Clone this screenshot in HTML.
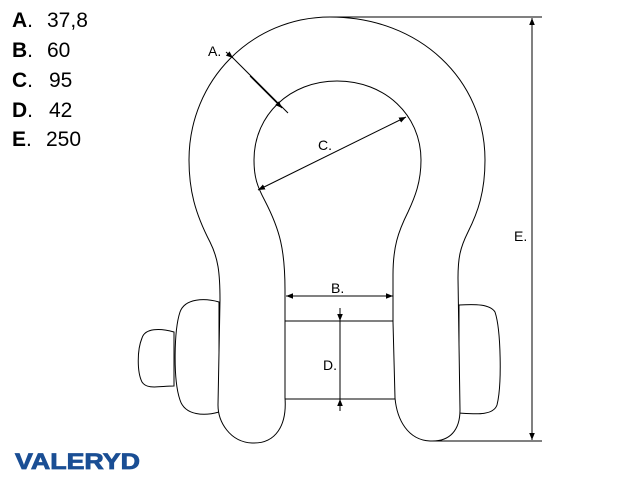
<!DOCTYPE html>
<html><head><meta charset="utf-8"><style>
html,body{margin:0;padding:0;background:#fff;width:640px;height:480px;overflow:hidden}
</style></head><body>
<svg width="640" height="480" xmlns="http://www.w3.org/2000/svg" font-family="Liberation Sans, sans-serif">
<defs>
<marker id="ar" viewBox="0 0 10 10" refX="10" refY="5" markerWidth="7" markerHeight="7" orient="auto-start-reverse" markerUnits="userSpaceOnUse"><path d="M0,1 L10,5 L0,9z" fill="#000"/></marker>
</defs>
<g font-size="21" fill="#000">
<text x="12" y="27"><tspan font-weight="bold">A</tspan>.</text><text x="47" y="27">37,8</text>
<text x="12" y="57"><tspan font-weight="bold">B</tspan>.</text><text x="47" y="57">60</text>
<text x="12" y="87"><tspan font-weight="bold">C</tspan>.</text><text x="49" y="87">95</text>
<text x="12" y="117"><tspan font-weight="bold">D</tspan>.</text><text x="49" y="117">42</text>
<text x="12" y="146"><tspan font-weight="bold">E</tspan>.</text><text x="46" y="146">250</text>
</g>
<g fill="#fff" stroke="#000" stroke-width="1">
<path d="M174 332 C160 328 145 328 142 338 C137 350 137 372 142 382 C147 390 160 386 174 386 Z"/>
<path d="M219 302 C205 298 185 298 180 312 C174 330 173 380 180 400 C185 416 205 416 219 412 Z"/>
<path d="M459 305 C475 304 490 304 495 312 C501 330 502 385 497 405 C493 416 475 414 459 413 Z"/>
<path d="M285 321 L395 321 L395 399 L285 399 C278 390 277 330 285 321 Z"/>
<path fill-rule="evenodd" d="M285 398 C287 425 276 444 252 443 C230 442 218 422 218 405 L220 300 C220 272 218 258 210 242 C195 213 189 190 189 160 C189 80 252 17 330 17 C420 17 485 80 485 160 C485 192 478 212 468 232 C460 248 458 258 458 278 L460 410 C460 430 450 442 430 441 C408 440 397 420 395 398 L393 322 L393 275 C393 247 398 232 408 212 C415 197 421 182 421 160 C421 115 385 81 337 81 C290 81 254 115 254 160 C254 177 257 186 265 201 C280 230 285 250 285 290 Z"/>
</g>
<g stroke="#000" stroke-width="1" fill="none">
<line x1="330" y1="17" x2="542" y2="17"/>
<line x1="430" y1="441" x2="542" y2="441"/>
<line x1="532" y1="18" x2="532" y2="440" marker-start="url(#ar)" marker-end="url(#ar)"/>
<line x1="232" y1="57" x2="288" y2="113"/>
<path d="M226 52 L233 58" marker-end="url(#ar)"/>
<line x1="250" y1="76" x2="282" y2="108" marker-end="url(#ar)"/>
<line x1="258" y1="190" x2="406" y2="117" marker-start="url(#ar)" marker-end="url(#ar)"/>
<line x1="286" y1="296" x2="393" y2="296" marker-start="url(#ar)" marker-end="url(#ar)"/>
<line x1="340" y1="308" x2="340" y2="321" marker-end="url(#ar)"/>
<line x1="340" y1="321" x2="340" y2="399"/>
<line x1="340" y1="411" x2="340" y2="399" marker-end="url(#ar)"/>
</g>
<g font-size="14" fill="#000">
<text x="208" y="56">A.</text>
<text x="318" y="150">C.</text>
<text x="331" y="293">B.</text>
<text x="323" y="370">D.</text>
<text x="514" y="241">E.</text>
</g>
<text x="15" y="469" font-size="22" font-weight="bold" fill="#1a4e94" stroke="#1a4e94" stroke-width="0.8" textLength="125" lengthAdjust="spacingAndGlyphs">VALERYD</text>
</svg>
</body></html>
